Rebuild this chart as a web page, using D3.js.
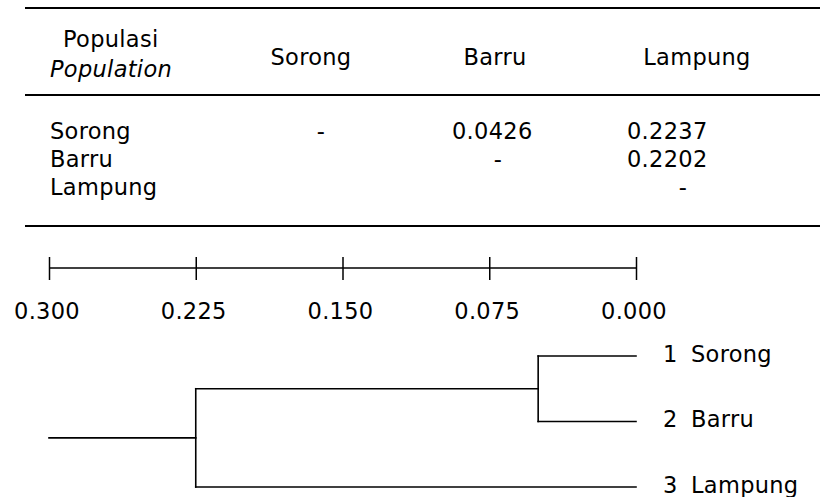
<!DOCTYPE html>
<html>
<head>
<meta charset="utf-8">
<script src="https://cdn.jsdelivr.net/npm/d3@7"></script>
<style>
  html, body { margin: 0; padding: 0; background: #fff; }
  svg text { font-family: "DejaVu Sans", sans-serif; font-size: 22.5px; letter-spacing: 0.3px; fill: #000; }
</style>
</head>
<body>
<svg id="chart" width="820" height="497"></svg>
<script>
// ---- data ----
const populations = ["Sorong", "Barru", "Lampung"];
const headerLabel = "Populasi";
const headerLabelEn = "Population";
// upper triangle of genetic distance matrix (null = diagonal "-", undefined = empty)
const rowSorong  = [null, 0.0426, 0.2237];
const rowBarru   = [undefined, null, 0.2202];
const rowLampung = [undefined, undefined, null];
const distRows = [rowSorong, rowBarru, rowLampung];

const scaleTicks = [0.300, 0.225, 0.150, 0.075, 0.000];
const leafNames = ["Sorong", "Barru", "Lampung"];
const leafNumbers = [1, 2, 3];
// cluster heights
const clusterSorongBarru = 0.050;
const clusterRoot = 0.225;
const rootStart = 0.300;

// ---- drawing ----
const svg = d3.select("#chart");

// table rules
const rules = [{y: 8, w: 2}, {y: 95, w: 2}, {y: 226, w: 2}];
svg.selectAll("line.rule").data(rules).join("line")
  .attr("class", "rule")
  .attr("x1", 25).attr("x2", 820)
  .attr("y1", d => d.y).attr("y2", d => d.y)
  .attr("stroke", "#000").attr("stroke-width", d => d.w);

// header
svg.append("text").attr("x", 63).attr("y", 47).text(headerLabel);
svg.append("text").attr("x", 50).attr("y", 77).attr("font-style", "italic").text(headerLabelEn);
const headerX = [311, 495, 697];
svg.selectAll("text.colhead").data(populations).join("text")
  .attr("class", "colhead")
  .attr("x", (d, i) => headerX[i]).attr("y", 65)
  .attr("text-anchor", "middle").text(d => d);

// rows
const rowY = [138.5, 167, 195];
svg.selectAll("text.rowhead").data(populations).join("text")
  .attr("class", "rowhead")
  .attr("x", 50).attr("y", (d, i) => rowY[i]).text(d => d);

const dashX = [321, 498, 683];
const numX = [null, 452, 627];
const cells = [];
distRows.forEach((row, r) => row.forEach((v, c) => {
  if (v === undefined) return;
  cells.push({r, c, v});
}));
svg.selectAll("text.cell").data(cells).join("text")
  .attr("class", "cell")
  .attr("x", d => d.v === null ? dashX[d.c] : numX[d.c])
  .attr("y", d => rowY[d.r])
  .attr("text-anchor", d => d.v === null ? "middle" : "start")
  .text(d => d.v === null ? "-" : d.v.toFixed(4));

// distance scale
const x = d3.scaleLinear().domain([0.300, 0.000]).range([49, 636]);
const scaleY = 268;
const axis = d3.axisBottom(x).tickValues(scaleTicks).tickSize(23).tickPadding(0)
  .tickFormat(d3.format(".3f"));
const gAxis = svg.append("g").attr("transform", `translate(0,${scaleY})`).call(axis);
gAxis.select(".domain").remove();
gAxis.append("line").attr("x1", x(0.300)).attr("x2", x(0.000))
  .attr("stroke", "#000").attr("stroke-width", 1.5);
gAxis.selectAll(".tick line").attr("y1", -11).attr("y2", 12)
  .attr("stroke", "#000").attr("stroke-width", 1.5);
gAxis.selectAll(".tick text").attr("y", 50.5).attr("dy", null).attr("dx", -2.5)
  .attr("fill", "#000")
  .style("font-family", '"DejaVu Sans", sans-serif').style("font-size", "22.5px")
  .style("letter-spacing", "0.3px");

// dendrogram
const y = d3.scaleLinear().domain([0, 2]).range([356, 487]);
const ySB = (y(0) + y(1)) / 2;
const yRoot = (ySB + y(2)) / 2;
const segs = [
  [x(0), y(0), x(clusterSorongBarru), y(0)],
  [x(0), y(1), x(clusterSorongBarru), y(1)],
  [x(clusterSorongBarru), y(0), x(clusterSorongBarru), y(1)],
  [x(clusterSorongBarru), ySB, x(clusterRoot), ySB],
  [x(0), y(2), x(clusterRoot), y(2)],
  [x(clusterRoot), ySB, x(clusterRoot), y(2)],
  [x(clusterRoot), yRoot, x(rootStart), yRoot]
];
svg.selectAll("line.branch").data(segs).join("line")
  .attr("class", "branch")
  .attr("x1", d => d[0]).attr("y1", d => d[1])
  .attr("x2", d => d[2]).attr("y2", d => d[3])
  .attr("stroke", "#000").attr("stroke-width", 1.6).attr("stroke-linecap", "square");

svg.selectAll("text.leafnum").data(leafNumbers).join("text")
  .attr("class", "leafnum")
  .attr("x", 663).attr("y", (d, i) => y(i) + 5.5).text(d => d);
svg.selectAll("text.leafname").data(leafNames).join("text")
  .attr("class", "leafname")
  .attr("x", 691).attr("y", (d, i) => y(i) + 5.5).text(d => d);
</script>
</body>
</html>
